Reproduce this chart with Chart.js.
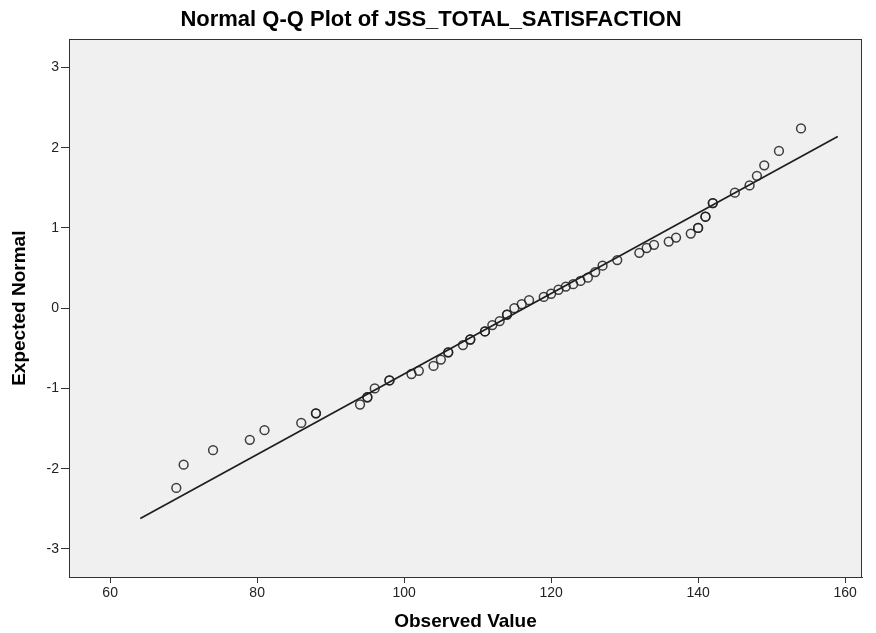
<!DOCTYPE html>
<html>
<head>
<meta charset="utf-8">
<title>Normal Q-Q Plot of JSS_TOTAL_SATISFACTION</title>
<script src="https://cdn.jsdelivr.net/npm/chart.js@4/dist/chart.umd.min.js"></script>
<style>
  html, body { margin: 0; padding: 0; background: #fff; }
  #wrap { width: 876px; height: 633px; }
</style>
</head>
<body>
<div id="wrap"><canvas id="qq" width="876" height="633"></canvas></div>
<script>
// observed scores and their expected normal values (ties listed twice)
const observed = [69, 70, 74, 79, 81, 86, 88, 88, 94, 95, 95, 96, 98, 98, 101, 102, 104, 105,
  106, 106, 108, 109, 109, 111, 111, 112, 113, 114, 114, 115, 116, 117, 119, 120, 121, 122,
  123, 124, 125, 126, 127, 129, 132, 133, 134, 136, 137, 139, 140, 140, 141, 141, 142, 142,
  145, 147, 148, 149, 151, 154];
const expected = [-2.24, -1.95, -1.77, -1.64, -1.52, -1.43, -1.31, -1.31, -1.20, -1.11, -1.11,
  -1.00, -0.90, -0.90, -0.82, -0.78, -0.72, -0.64, -0.55, -0.55, -0.46, -0.39, -0.39, -0.29,
  -0.29, -0.21, -0.16, -0.08, -0.08, 0.00, 0.05, 0.10, 0.14, 0.18, 0.23, 0.27, 0.30, 0.34,
  0.38, 0.45, 0.53, 0.60, 0.69, 0.75, 0.79, 0.83, 0.88, 0.93, 1.00, 1.00, 1.14, 1.14, 1.31,
  1.31, 1.44, 1.53, 1.65, 1.78, 1.96, 2.24];

// reference line end points
const lineX = [64.1, 159.0];
const lineY = [-2.62, 2.14];

const xTicks = [60, 80, 100, 120, 140, 160];
const yTicks = [-3, -2, -1, 0, 1, 2, 3];

const FONT = '"Liberation Sans", Arial, Helvetica, sans-serif';
const INK = '#333333';

const points = observed.map((v, i) => ({x: v, y: expected[i]}));
const refLine = lineX.map((v, i) => ({x: v, y: lineY[i]}));

// grey plot panel with a frame round it
const panel = {
  id: 'panel',
  beforeDatasetsDraw(chart) {
    const {ctx, chartArea: a} = chart;
    ctx.save();
    ctx.fillStyle = '#f0f0f0';
    ctx.fillRect(a.left, a.top, a.right - a.left, a.bottom - a.top);
    ctx.restore();
  },
  afterDraw(chart) {
    const {ctx, chartArea: a} = chart;
    ctx.save();
    ctx.strokeStyle = INK;
    ctx.lineWidth = 1;
    ctx.strokeRect(Math.round(a.left) + 0.5, Math.round(a.top) + 0.5,
      Math.round(a.right - a.left) - 1, Math.round(a.bottom - a.top));
    ctx.restore();
  }
};

new Chart(document.getElementById('qq'), {
  type: 'scatter',
  data: {
    datasets: [{
      data: points,
      pointStyle: 'circle',
      pointRadius: 4.4,
      pointBorderWidth: 1.5,
      pointBorderColor: 'rgba(30,30,30,0.85)',
      pointBackgroundColor: 'transparent',
      pointHoverRadius: 4.4
    }, {
      type: 'line',
      data: refLine,
      borderColor: '#1e1e1e',
      borderWidth: 1.7,
      pointRadius: 0,
      fill: false
    }]
  },
  options: {
    responsive: false,
    animation: false,
    devicePixelRatio: 1,
    layout: {padding: {left: 0, right: 14, top: 0, bottom: 0}},
    plugins: {
      legend: {display: false},
      tooltip: {enabled: false},
      title: {
        display: true,
        text: 'Normal Q-Q Plot of JSS_TOTAL_SATISFACTION',
        color: '#000',
        font: {family: FONT, size: 22, weight: 'bold'},
        padding: {top: 7, bottom: 6}
      }
    },
    scales: {
      x: {
        type: 'linear',
        min: 54.4,
        max: 162.3,
        afterBuildTicks: s => { s.ticks = xTicks.map(v => ({value: v})); },
        afterFit: s => { s.height = 56; },
        grid: {drawOnChartArea: false, drawTicks: true, tickLength: 6, tickColor: INK},
        border: {display: true, color: INK, width: 1},
        ticks: {color: '#222', font: {family: FONT, size: 14}, padding: 2, maxRotation: 0},
        title: {
          display: true,
          text: 'Observed Value',
          color: '#000',
          font: {family: FONT, size: 19, weight: 'bold'},
          padding: {top: 0, bottom: 0}
        }
      },
      y: {
        type: 'linear',
        min: -3.35,
        max: 3.35,
        afterBuildTicks: s => { s.ticks = yTicks.map(v => ({value: v})); },
        afterFit: s => { s.width = 69; },
        grid: {drawOnChartArea: false, drawTicks: true, tickLength: 8, tickColor: INK},
        border: {display: true, color: INK, width: 1},
        ticks: {color: '#222', font: {family: FONT, size: 14}, padding: 2},
        title: {
          display: true,
          text: 'Expected Normal',
          color: '#000',
          font: {family: FONT, size: 19, weight: 'bold'},
          padding: {top: 8, bottom: 0}
        }
      }
    }
  },
  plugins: [panel]
});
</script>
</body>
</html>
